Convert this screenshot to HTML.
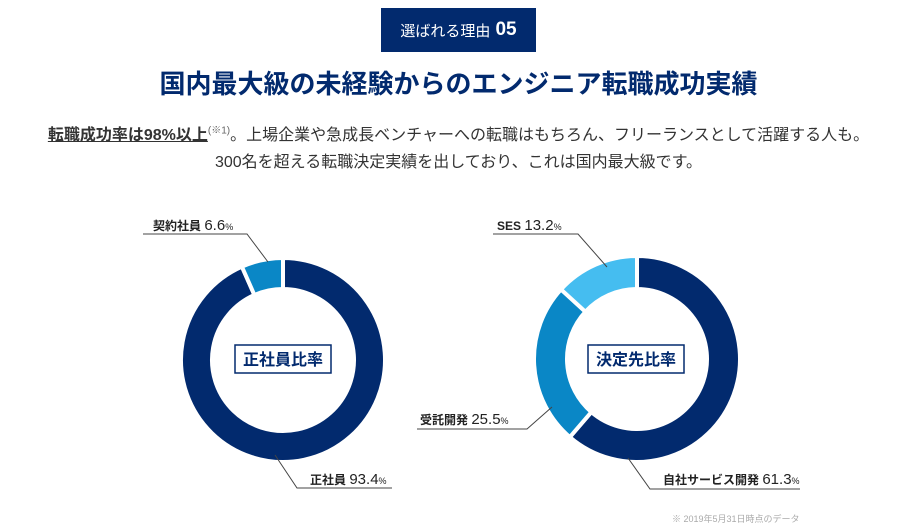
<!DOCTYPE html>
<html><head><meta charset="utf-8">
<style>
html,body{margin:0;padding:0;background:#fff;}
body{width:917px;height:529px;position:relative;overflow:hidden;font-family:"Liberation Sans","Noto Sans CJK JP",sans-serif;}
.badge{position:absolute;left:381px;top:8px;width:155px;height:44px;background:#022a6e;color:#fff;display:flex;align-items:center;justify-content:center;font-size:15px;}
.badge b{font-size:19px;margin-left:5px;}
.title{position:absolute;left:0;width:917px;top:64px;text-align:center;color:#022a6e;font-size:26px;font-weight:bold;}
.sub{position:absolute;left:0;width:917px;text-align:center;color:#333;font-size:16px;}
.sub u{font-weight:bold;}
.sub sup{font-size:10px;color:#666;}
svg{position:absolute;left:0;top:0;}
</style></head><body>
<div class="badge">選ばれる理由<b>05</b></div>
<div class="title">国内最大級の未経験からのエンジニア転職成功実績</div>
<div class="sub" style="top:121px"><u>転職成功率は98%以上</u><sup>(※1)</sup>。上場企業や急成長ベンチャーへの転職はもちろん、フリーランスとして活躍する人も。</div>
<div class="sub" style="top:148px">300名を超える転職決定実績を出しており、これは国内最大級です。</div>
<svg id="chart" width="917" height="529"></svg>
<script>
const leftLabels=["正社員","契約社員"];
const leftValues=[93.4,6.6];
const rightLabels=["自社サービス開発","受託開発","SES"];
const rightValues=[61.3,25.5,13.2];
const leftColors=["#022a6e","#0a87c6"];
const rightColors=["#022a6e","#0a87c6","#45bdf0"];
const NS="http://www.w3.org/2000/svg";
const svg=document.getElementById('chart');
function mk(t,a){const e=document.createElementNS(NS,t);for(const k in a)e.setAttribute(k,a[k]);svg.appendChild(e);return e;}
function pt(cx,cy,r,f){const a=f*2*Math.PI-Math.PI/2;return [cx+r*Math.cos(a),cy+r*Math.sin(a)];}
function donut(cx,cy,ro,ri,vals,cols,labels,name){
  const tot=vals.reduce((a,b)=>a+b,0);let acc=0;
  vals.forEach((v,i)=>{
    const f0=acc/tot,f1=(acc+v)/tot;acc+=v;
    const large=(f1-f0)>0.5?1:0;
    const a=pt(cx,cy,ro,f0),b=pt(cx,cy,ro,f1),c=pt(cx,cy,ri,f1),d=pt(cx,cy,ri,f0);
    const p=mk('path',{d:`M${a[0]},${a[1]}A${ro},${ro} 0 ${large} 1 ${b[0]},${b[1]}L${c[0]},${c[1]}A${ri},${ri} 0 ${large} 0 ${d[0]},${d[1]}Z`,fill:cols[i],stroke:'#fff','stroke-width':4});
    
    
  });
}
donut(283,360,102,71,leftValues,leftColors,leftLabels,'employment');
donut(637,359,103,70,rightValues,rightColors,rightLabels,'placement');
function box(x,label,name){
  const r=mk('rect',{x:x,y:345,width:96,height:28,fill:'#fff',stroke:'#022a6e','stroke-width':1.5});
  
  
  const t=mk('text',{x:x+48,y:365,'text-anchor':'middle','font-size':16,'font-weight':'bold',fill:'#022a6e'});
  t.textContent=label;
  
  
}
box(235,'正社員比率','employment');
box(588,'決定先比率','placement');
function callout(pts,tx,ty,name,label,val){
  const l=mk('polyline',{points:pts.map(p=>p.join(',')).join(' '),fill:'none',stroke:'#444','stroke-width':1});
  
  
  const t=mk('text',{x:tx,y:ty,'font-size':12,fill:'#222'});
  
  
  const s1=document.createElementNS(NS,'tspan');s1.setAttribute('font-weight','bold');s1.textContent=label+' ';t.appendChild(s1);
  const s2=document.createElementNS(NS,'tspan');s2.setAttribute('font-size',15);s2.textContent=val.toFixed(1);t.appendChild(s2);
  const s3=document.createElementNS(NS,'tspan');s3.setAttribute('font-size',9);s3.textContent='%';t.appendChild(s3);
}
callout([[143,234],[247,234],[268,262]],153,230,'contract',leftLabels[1],leftValues[1]);
callout([[275,455],[297,488],[392,488]],310,484,'fulltime',leftLabels[0],leftValues[0]);
callout([[493,234],[578,234],[607,267]],497,230,'ses',rightLabels[2],rightValues[2]);
callout([[417,429],[527,429],[552,407]],420,424,'contract-dev',rightLabels[1],rightValues[1]);
callout([[628,458],[650,489],[800,489]],663,484,'in-house',rightLabels[0],rightValues[0]);
const fn=mk('text',{x:672,y:522,'font-size':9,fill:'#aaa'});
fn.textContent='※ 2019年5月31日時点のデータ';


</script>
</body></html>
